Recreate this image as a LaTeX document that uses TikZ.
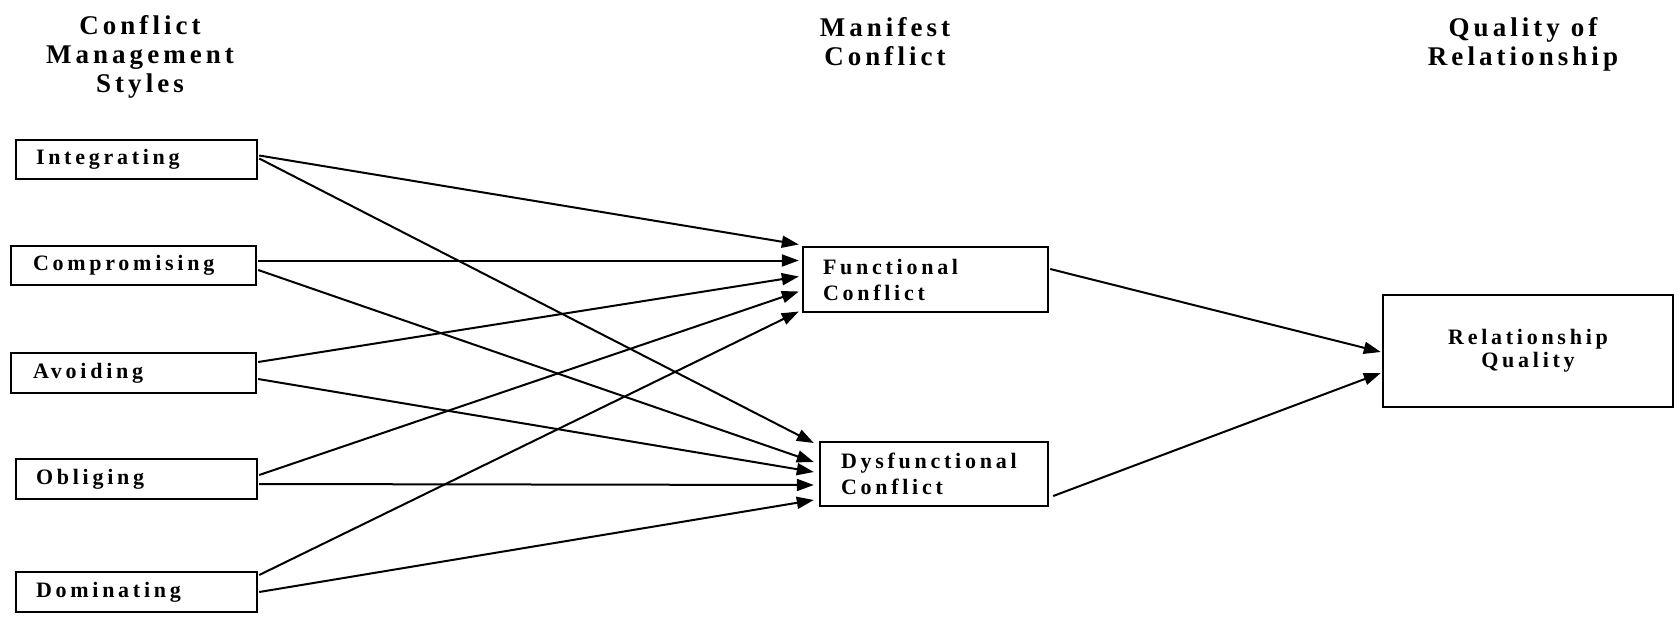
\documentclass[tikz,border=0pt]{standalone}
\usepackage{fontspec}
\setmainfont{Liberation Serif}
\newfontfamily\headfont[LetterSpace=15]{Liberation Serif}
\newfontfamily\labelfont[LetterSpace=17]{Liberation Serif}
\usetikzlibrary{arrows.meta,calc}

\tikzset{
  heading/.style={align=center, inner sep=0pt,
    font=\headfont\bfseries\fontsize{27}{29}\selectfont},
  stylebox/.style={draw, line width=2.4pt, inner ysep=0pt, align=left,
    font=\labelfont\bfseries\fontsize{22}{26}\selectfont},
  outcome/.style={draw, line width=2.4pt, inner sep=0pt, align=center,
    font=\labelfont\bfseries\fontsize{22}{23}\selectfont},
  link/.style={line width=2pt, -{Triangle[length=17pt,width=12pt]}},
}

\begin{document}
\begin{tikzpicture}[x=1pt,y=-1pt]
  \useasboundingbox (0,0) rectangle (1678,619);

  % column headings
  \node[heading] (hstyles) at (140,57) {Conflict\\Management\\Styles};
  \node[heading] (hmanifest) at (885,42) {Manifest\\Conflict};
  \node[heading] (hquality) at (1523,44) {Quality of\\Relationship};

  % conflict management styles
  \node[stylebox, text width=201pt, inner xsep=20pt, minimum height=39pt] (int) at (136.5,159.5) {Integrating};
  \node[stylebox, text width=201pt, inner xsep=22pt, minimum height=39pt] (com) at (133.5,265.5) {Compromising};
  \node[stylebox, text width=201pt, inner xsep=22pt, minimum height=40pt] (avo) at (133.5,373) {Avoiding};
  \node[stylebox, text width=201pt, inner xsep=20pt, minimum height=40pt] (obl) at (136.5,479) {Obliging};
  \node[stylebox, text width=201pt, inner xsep=20pt, minimum height=40pt] (dom) at (136.5,592) {Dominating};

  % manifest conflict
  \node[stylebox, text width=205pt, inner xsep=20pt, minimum height=65pt] (fun) at (925.5,279.5) {Functional\\Conflict};
  \node[stylebox, text width=186pt, inner xsep=21pt, minimum height=64pt] (dys) at (934,474) {Dysfunctional\\Conflict};

  % quality of relationship
  \node[outcome, minimum width=290pt, minimum height=112pt] (rel) at (1528,351) {Relationship\\Quality};

  % styles -> functional conflict
  \draw[link] ($(int.east)+(1,-4)$) -- ($(fun.west)+(-3,-35)$);
  \draw[link] ($(com.east)+(1,-5)$) -- ($(fun.west)+(-3,-19)$);
  \draw[link] ($(avo.east)+(1,-11)$) -- ($(fun.west)+(-3,-3)$);
  \draw[link] ($(obl.east)+(1,-4)$) -- ($(fun.west)+(-3,12)$);
  \draw[link] ($(dom.east)+(1,-17)$) -- ($(fun.west)+(-3,32)$);

  % styles -> dysfunctional conflict
  \draw[link] ($(int.east)+(1,-1)$) -- ($(dys.west)+(-5,-31)$);
  \draw[link] ($(com.east)+(1,4.5)$) -- ($(dys.west)+(-5,-12)$);
  \draw[link] ($(avo.east)+(1,6)$) -- ($(dys.west)+(-5,-2)$);
  \draw[link] ($(obl.east)+(1,5)$) -- ($(dys.west)+(-5,11)$);
  \draw[link] ($(dom.east)+(1,0)$) -- ($(dys.west)+(-5,26)$);

  % manifest conflict -> relationship quality
  \draw[link] ($(fun.east)+(1,-10.5)$) -- ($(rel.west)+(-1,1)$);
  \draw[link] ($(dys.east)+(4,22)$) -- ($(rel.west)+(-1,22)$);
\end{tikzpicture}
\end{document}
